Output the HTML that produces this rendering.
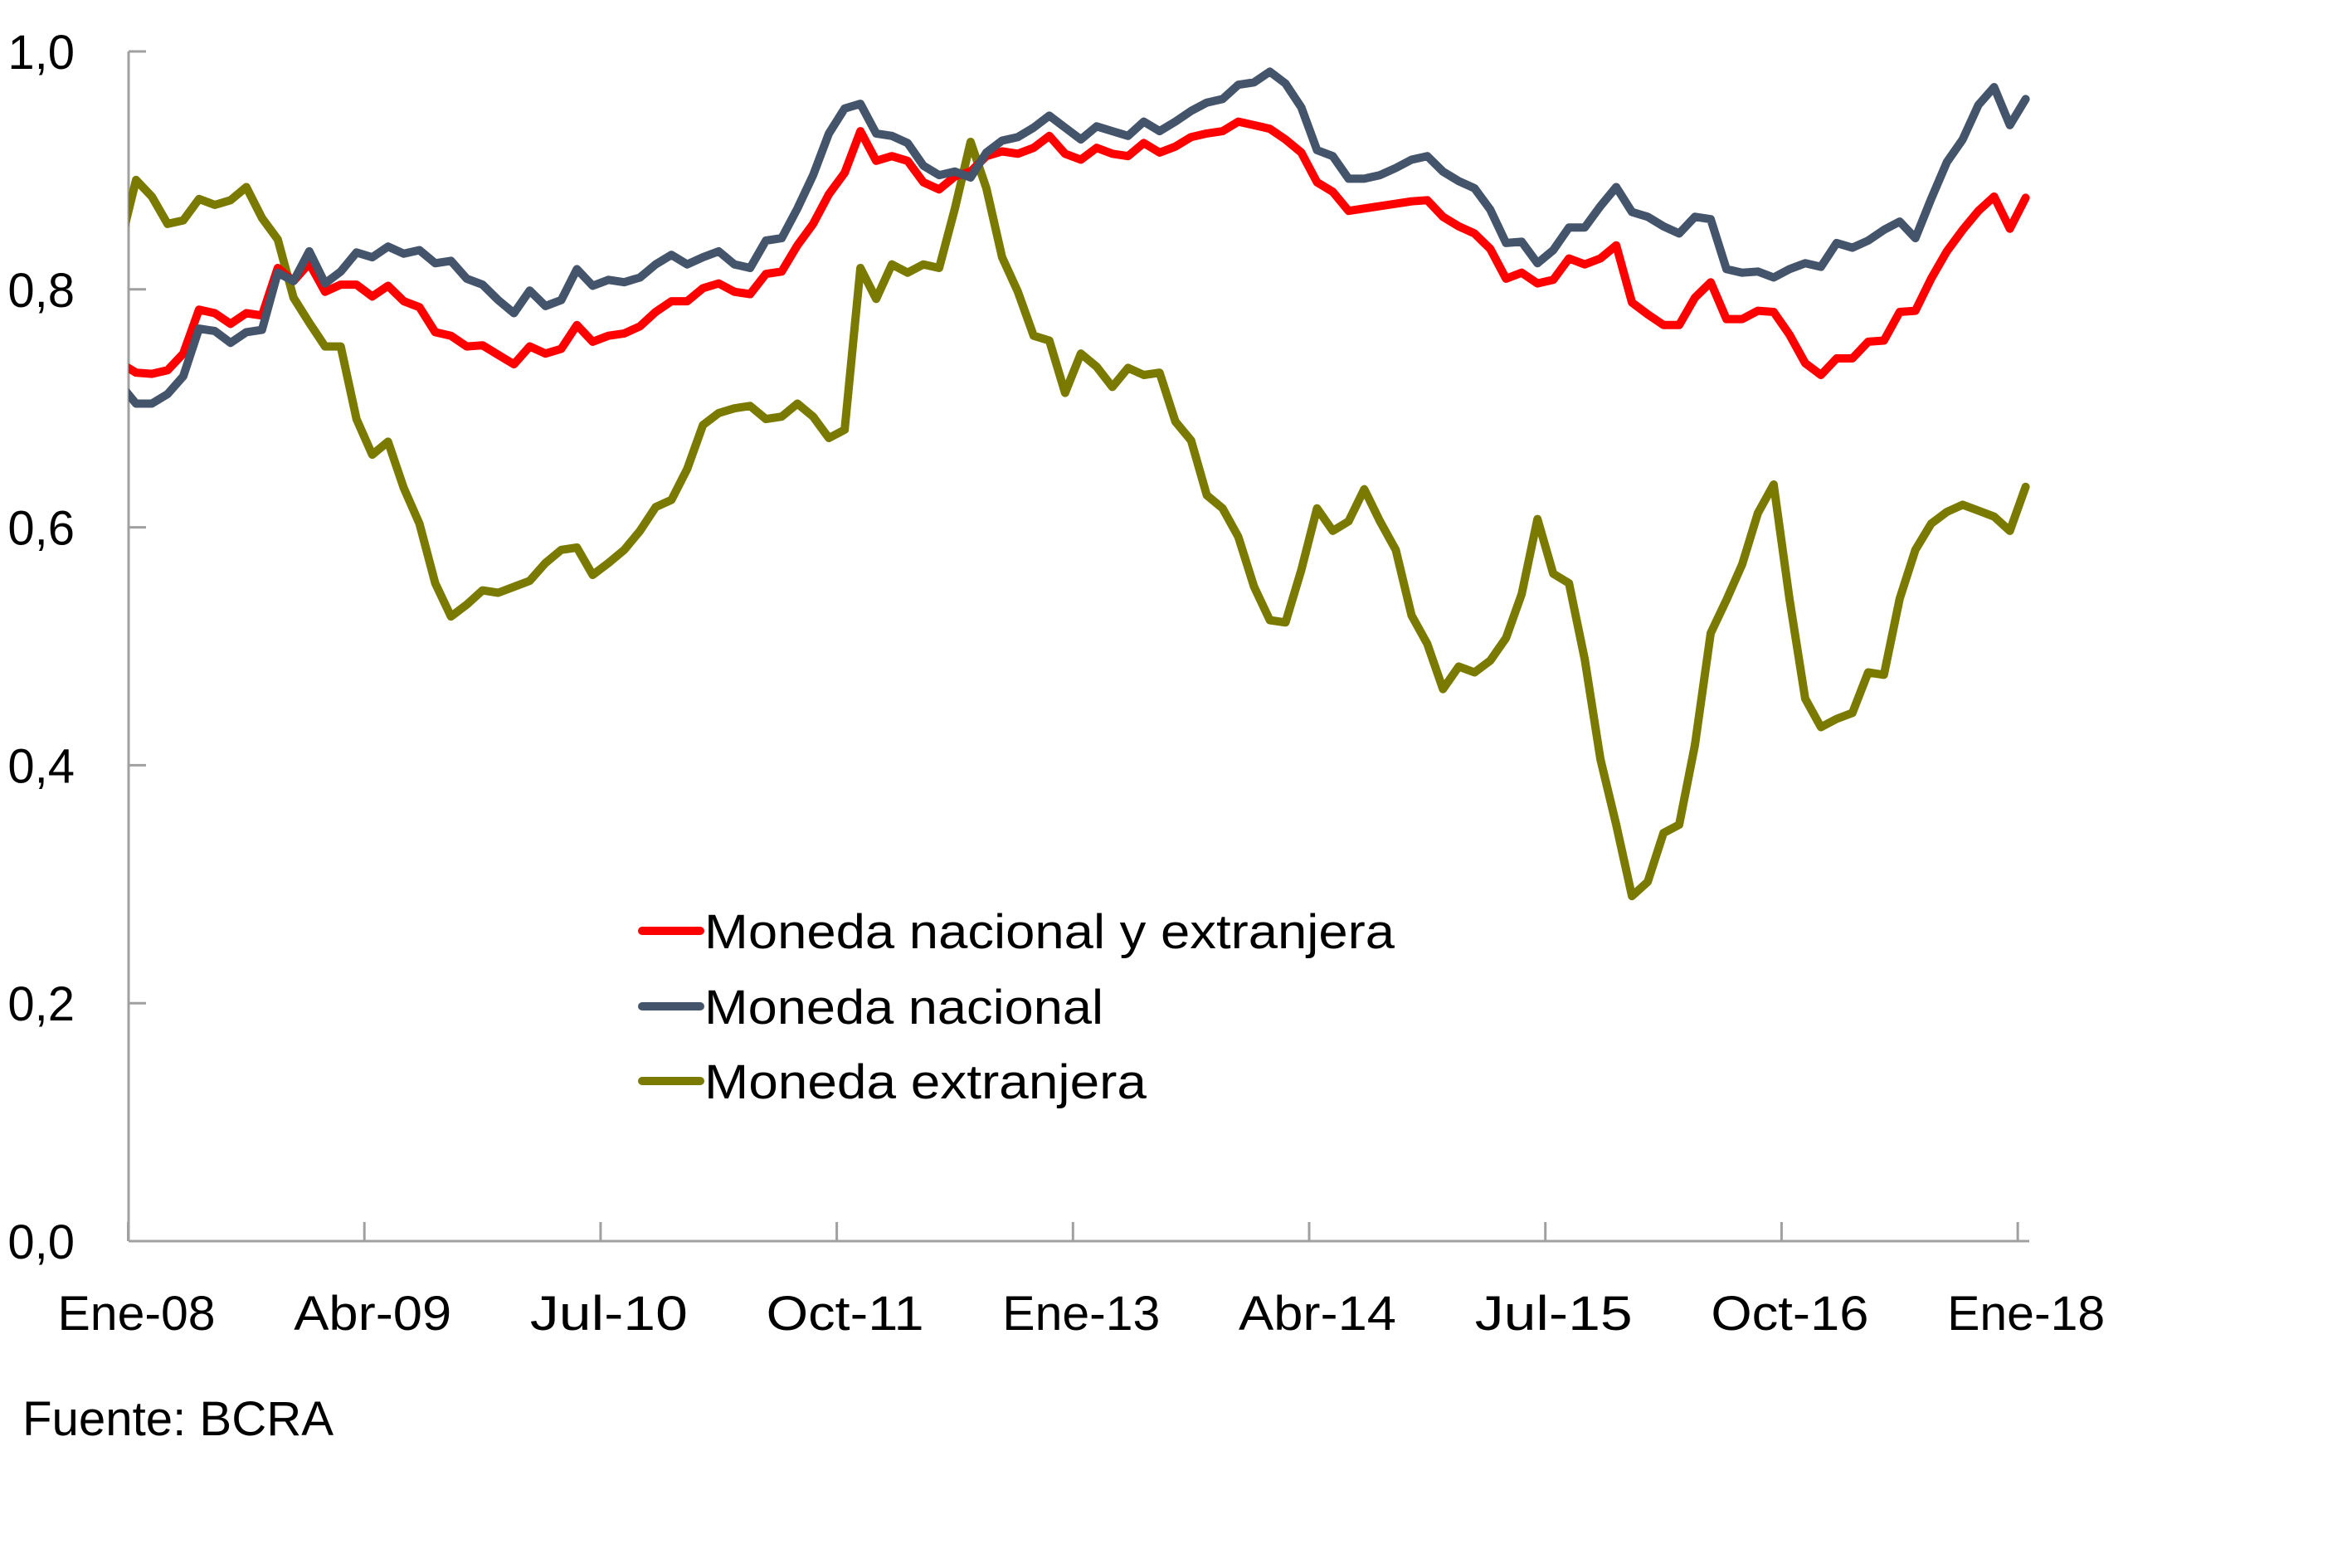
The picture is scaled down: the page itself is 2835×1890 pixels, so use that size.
<!DOCTYPE html>
<html><head><meta charset="utf-8">
<style>
html,body{margin:0;padding:0;background:#fff;}
svg{display:block;font-family:"Liberation Sans",sans-serif;}
</style></head>
<body>
<svg id="chart" width="2835" height="1890" viewBox="0 0 2835 1890" xmlns="http://www.w3.org/2000/svg">
<defs><clipPath id="plotclip"><rect x="155" y="0" width="2400" height="1600"/></clipPath></defs>
<g id="axes"></g>
<g id="series" clip-path="url(#plotclip)"></g>
<g id="legend">
  <line x1="774" y1="1122" x2="844" y2="1122" stroke="#FF0000" stroke-width="10" stroke-linecap="round"/>
  <text x="849" y="1143" font-size="58" textLength="832" lengthAdjust="spacingAndGlyphs">Moneda nacional y extranjera</text>
  <line x1="774" y1="1213" x2="844" y2="1213" stroke="#44546A" stroke-width="10" stroke-linecap="round"/>
  <text x="849" y="1234" font-size="58" textLength="481" lengthAdjust="spacingAndGlyphs">Moneda nacional</text>
  <line x1="774" y1="1303" x2="844" y2="1303" stroke="#7A7A00" stroke-width="10" stroke-linecap="round"/>
  <text x="849" y="1324" font-size="58" textLength="533" lengthAdjust="spacingAndGlyphs">Moneda extranjera</text>
</g>
<text x="27" y="1730" font-size="58" textLength="375" lengthAdjust="spacingAndGlyphs">Fuente: BCRA</text>
</svg>
<script>
const yTicks = [0, 0.2, 0.4, 0.6, 0.8, 1.0];
const yTickLabels = ["0,0", "0,2", "0,4", "0,6", "0,8", "1,0"];
const xTickIndex = [1, 16, 31, 46, 61, 76, 91, 106, 121];
const xTickLabels = ["Ene-08", "Abr-09", "Jul-10", "Oct-11", "Ene-13", "Abr-14", "Jul-15", "Oct-16", "Ene-18"];
const totalSeries = [0.738,0.730,0.729,0.732,0.746,0.783,0.780,0.771,0.780,0.778,0.818,0.807,0.822,0.798,0.804,0.804,0.794,0.803,0.790,0.785,0.764,0.761,0.752,0.753,0.745,0.737,0.752,0.746,0.750,0.770,0.756,0.761,
0.763,0.769,0.781,0.790,0.790,0.801,0.805,0.798,0.796,0.813,0.815,0.837,0.855,0.880,0.898,0.933,0.908,0.912,0.908,0.890,0.884,0.895,0.899,0.912,0.916,0.914,0.919,0.929,0.914,0.909,0.919,0.914,
0.912,0.923,0.915,0.920,0.928,0.931,0.933,0.941,0.938,0.935,0.926,0.915,0.890,0.882,0.866,0.868,0.870,0.872,0.874,0.875,0.861,0.853,0.847,0.834,0.809,0.814,0.805,0.808,0.826,
0.821,0.826,0.837,0.789,0.779,0.770,0.770,0.793,0.806,0.775,0.775,0.782,0.781,0.762,0.738,0.728,0.742,0.742,0.756,0.757,0.781,0.782,0.809,0.832,0.850,0.866,0.878,0.851,0.877];
const nationalSeries = [0.720,0.704,0.704,0.712,0.727,0.767,0.765,0.755,0.764,0.766,0.814,0.807,0.832,0.805,0.815,0.831,0.827,0.836,0.830,0.833,0.822,0.824,0.809,0.804,0.791,0.780,0.799,0.786,0.791,0.817,0.803,0.808,
0.806,0.810,0.821,0.829,0.821,0.827,0.832,0.821,0.818,0.841,0.843,0.868,0.896,0.931,0.952,0.956,0.931,0.929,0.923,0.904,0.896,0.899,0.894,0.915,0.925,0.928,0.936,0.946,0.936,0.926,0.937,0.933,
0.929,0.941,0.933,0.941,0.950,0.957,0.960,0.972,0.974,0.983,0.973,0.953,0.917,0.912,0.893,0.893,0.896,0.902,0.909,0.912,0.899,0.891,0.885,0.867,0.839,0.840,0.822,0.833,0.852,
0.852,0.870,0.886,0.865,0.861,0.853,0.847,0.861,0.859,0.817,0.814,0.815,0.810,0.817,0.822,0.819,0.839,0.835,0.841,0.850,0.857,0.843,0.876,0.907,0.926,0.955,0.970,0.938,0.960];
const foreignSeries = [0.838,0.892,0.878,0.855,0.858,0.876,0.871,0.875,0.886,0.860,0.842,0.793,0.772,0.752,0.752,0.691,0.661,0.672,0.633,0.603,0.553,0.525,0.535,0.547,0.545,0.550,0.555,0.570,0.581,0.583,0.560,0.570,
0.581,0.597,0.617,0.623,0.649,0.686,0.696,0.700,0.702,0.691,0.693,0.704,0.693,0.675,0.682,0.818,0.792,0.821,0.814,0.821,0.818,0.868,0.924,0.885,0.827,0.798,0.761,0.757,0.713,0.746,0.735,0.718,
0.734,0.728,0.730,0.689,0.673,0.627,0.616,0.592,0.550,0.522,0.520,0.564,0.616,0.597,0.605,0.632,0.605,0.581,0.526,0.502,0.464,0.483,0.478,0.488,0.507,0.544,0.607,0.561,0.553,
0.489,0.405,0.350,0.290,0.302,0.343,0.350,0.417,0.511,0.539,0.569,0.612,0.636,0.540,0.456,0.432,0.439,0.444,0.478,0.476,0.540,0.581,0.603,0.613,0.619,0.614,0.609,0.597,0.634];

const NS = "http://www.w3.org/2000/svg";
function xScale(i){ return 164 + (i - 1) * 18.98; }
function yScale(v){ return 1496 - v * 1434; }
function mk(tag, attrs, parent){
  const el = document.createElementNS(NS, tag);
  for (const k in attrs) el.setAttribute(k, attrs[k]);
  parent.appendChild(el);
  return el;
}
const axes = document.getElementById("axes");
const series = document.getElementById("series");

const yAxis = mk("line", {x1:155, y1:yScale(1), x2:155, y2:1496, stroke:"#A0A0A0", "stroke-width":3}, axes);


const xAxis = mk("line", {x1:155, y1:1496, x2:2446, y2:1496, stroke:"#A0A0A0", "stroke-width":3}, axes);



yTicks.forEach((v, j) => {
  const y = yScale(v);
  const t = mk("line", {x1:155, y1:y, x2:176, y2:y, stroke:"#A0A0A0", "stroke-width":3}, axes);
  
  
  const lb = mk("text", {x:90, y:y + 21, "font-size":58, "text-anchor":"end", fill:"#000"}, axes);
  lb.textContent = yTickLabels[j];
  
  
});

xTickIndex.forEach((idx, j) => {
  const x = xScale(idx - 0.5);
  const t = mk("line", {x1:x, y1:1473, x2:x, y2:1496, stroke:"#A0A0A0", "stroke-width":3}, axes);
  
  
  const lb = mk("text", {x:x + 10, y:1603, "font-size":58, "text-anchor":"middle", fill:"#000", textLength:190, lengthAdjust:"spacingAndGlyphs"}, axes);
  lb.textContent = xTickLabels[j];
  
  
});

function drawLine(vals, color){
  const pts = vals.map((v, i) => xScale(i).toFixed(1) + "," + yScale(v).toFixed(1)).join(" ");
  return mk("polyline", {points:pts, fill:"none", stroke:color, "stroke-width":10, "stroke-linejoin":"round", "stroke-linecap":"round"}, series);
}
const l3 = drawLine(foreignSeries, "#7A7A00");


const l1 = drawLine(totalSeries, "#FF0000");


const l2 = drawLine(nationalSeries, "#44546A");


</script>
</body></html>
